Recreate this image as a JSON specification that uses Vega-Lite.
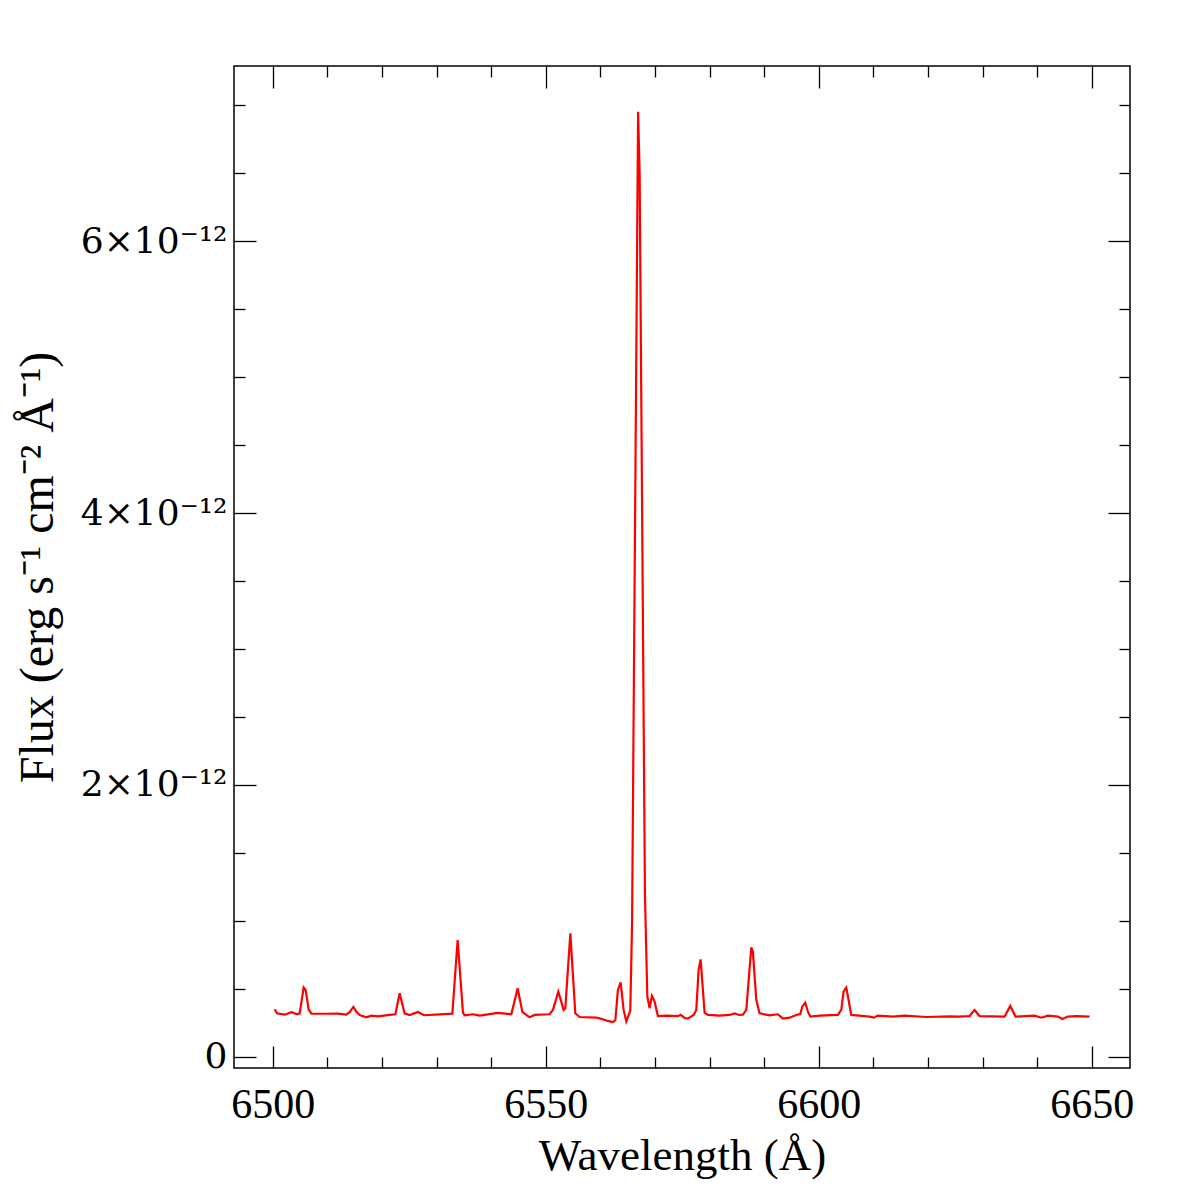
{
  "$schema": "https://vega.github.io/schema/vega-lite/v6.json",
  "width": 896,
  "height": 1002,
  "autosize": {"type": "none"},
  "padding": {"left": 234, "top": 66, "right": 66, "bottom": 128},
  "background": "white",
  "config": {
    "view": {"stroke": "black", "strokeWidth": 1.5},
    "axis": {"grid": false, "domain": false, "tickColor": "black", "tickWidth": 1.3, "labelColor": "black", "titleColor": "black", "titleFontWeight": "normal"}
  },
  "data": {
    "values": [
      {"wavelength": 6500.35, "flux": 3.51e-13},
      {"wavelength": 6500.77, "flux": 3.21e-13},
      {"wavelength": 6502.18, "flux": 3.11e-13},
      {"wavelength": 6503.41, "flux": 3.29e-13},
      {"wavelength": 6504.43, "flux": 3.14e-13},
      {"wavelength": 6504.93, "flux": 3.21e-13},
      {"wavelength": 6505.66, "flux": 5.12e-13},
      {"wavelength": 6506.02, "flux": 4.93e-13},
      {"wavelength": 6506.57, "flux": 3.51e-13},
      {"wavelength": 6507.07, "flux": 3.19e-13},
      {"wavelength": 6509.50, "flux": 3.18e-13},
      {"wavelength": 6511.94, "flux": 3.19e-13},
      {"wavelength": 6513.48, "flux": 3.11e-13},
      {"wavelength": 6514.08, "flux": 3.29e-13},
      {"wavelength": 6514.76, "flux": 3.68e-13},
      {"wavelength": 6515.31, "flux": 3.33e-13},
      {"wavelength": 6515.91, "flux": 3.09e-13},
      {"wavelength": 6517.14, "flux": 2.92e-13},
      {"wavelength": 6518.06, "flux": 3.04e-13},
      {"wavelength": 6519.26, "flux": 2.99e-13},
      {"wavelength": 6521.41, "flux": 3.09e-13},
      {"wavelength": 6522.45, "flux": 3.14e-13},
      {"wavelength": 6523.24, "flux": 4.68e-13},
      {"wavelength": 6524.15, "flux": 3.21e-13},
      {"wavelength": 6525.07, "flux": 3.09e-13},
      {"wavelength": 6526.59, "flux": 3.31e-13},
      {"wavelength": 6527.69, "flux": 3.07e-13},
      {"wavelength": 6530.56, "flux": 3.14e-13},
      {"wavelength": 6532.89, "flux": 3.19e-13},
      {"wavelength": 6533.86, "flux": 8.60e-13},
      {"wavelength": 6534.83, "flux": 3.26e-13},
      {"wavelength": 6535.14, "flux": 3.06e-13},
      {"wavelength": 6536.66, "flux": 3.14e-13},
      {"wavelength": 6537.89, "flux": 3.04e-13},
      {"wavelength": 6541.24, "flux": 3.24e-13},
      {"wavelength": 6543.69, "flux": 3.14e-13},
      {"wavelength": 6544.85, "flux": 5.05e-13},
      {"wavelength": 6545.71, "flux": 3.31e-13},
      {"wavelength": 6547.04, "flux": 2.92e-13},
      {"wavelength": 6547.96, "flux": 3.09e-13},
      {"wavelength": 6550.71, "flux": 3.14e-13},
      {"wavelength": 6551.31, "flux": 3.46e-13},
      {"wavelength": 6552.30, "flux": 4.80e-13},
      {"wavelength": 6553.27, "flux": 3.46e-13},
      {"wavelength": 6553.58, "flux": 3.58e-13},
      {"wavelength": 6554.50, "flux": 9.09e-13},
      {"wavelength": 6555.41, "flux": 3.21e-13},
      {"wavelength": 6556.20, "flux": 2.94e-13},
      {"wavelength": 6559.26, "flux": 2.90e-13},
      {"wavelength": 6560.47, "flux": 2.77e-13},
      {"wavelength": 6561.38, "flux": 2.65e-13},
      {"wavelength": 6562.30, "flux": 2.57e-13},
      {"wavelength": 6562.74, "flux": 2.70e-13},
      {"wavelength": 6563.21, "flux": 4.93e-13},
      {"wavelength": 6563.71, "flux": 5.49e-13},
      {"wavelength": 6564.26, "flux": 3.46e-13},
      {"wavelength": 6564.75, "flux": 2.62e-13},
      {"wavelength": 6565.48, "flux": 3.40e-13},
      {"wavelength": 6565.81, "flux": 1.00e-12},
      {"wavelength": 6566.91, "flux": 6.95e-12},
      {"wavelength": 6567.19, "flux": 6.50e-12},
      {"wavelength": 6568.16, "flux": 1.20e-12},
      {"wavelength": 6568.60, "flux": 4.43e-13},
      {"wavelength": 6569.02, "flux": 3.58e-13},
      {"wavelength": 6569.44, "flux": 4.49e-13},
      {"wavelength": 6569.93, "flux": 4.07e-13},
      {"wavelength": 6570.54, "flux": 3.01e-13},
      {"wavelength": 6572.08, "flux": 3.04e-13},
      {"wavelength": 6574.20, "flux": 3.00e-13},
      {"wavelength": 6574.70, "flux": 3.10e-13},
      {"wavelength": 6575.43, "flux": 2.87e-13},
      {"wavelength": 6576.03, "flux": 2.82e-13},
      {"wavelength": 6577.08, "flux": 3.09e-13},
      {"wavelength": 6577.57, "flux": 3.46e-13},
      {"wavelength": 6577.99, "flux": 6.40e-13},
      {"wavelength": 6578.36, "flux": 7.18e-13},
      {"wavelength": 6579.09, "flux": 3.26e-13},
      {"wavelength": 6579.69, "flux": 3.09e-13},
      {"wavelength": 6581.84, "flux": 3.04e-13},
      {"wavelength": 6583.67, "flux": 3.09e-13},
      {"wavelength": 6584.58, "flux": 3.21e-13},
      {"wavelength": 6585.37, "flux": 3.09e-13},
      {"wavelength": 6586.10, "flux": 3.11e-13},
      {"wavelength": 6586.73, "flux": 3.46e-13},
      {"wavelength": 6587.64, "flux": 8.06e-13},
      {"wavelength": 6587.93, "flux": 7.75e-13},
      {"wavelength": 6588.56, "flux": 4.19e-13},
      {"wavelength": 6589.16, "flux": 3.21e-13},
      {"wavelength": 6590.99, "flux": 3.06e-13},
      {"wavelength": 6592.51, "flux": 3.14e-13},
      {"wavelength": 6593.43, "flux": 2.82e-13},
      {"wavelength": 6594.66, "flux": 2.89e-13},
      {"wavelength": 6595.88, "flux": 3.09e-13},
      {"wavelength": 6596.61, "flux": 3.16e-13},
      {"wavelength": 6596.98, "flux": 3.70e-13},
      {"wavelength": 6597.53, "flux": 4.00e-13},
      {"wavelength": 6598.01, "flux": 3.33e-13},
      {"wavelength": 6598.45, "flux": 2.97e-13},
      {"wavelength": 6600.15, "flux": 3.04e-13},
      {"wavelength": 6603.50, "flux": 3.09e-13},
      {"wavelength": 6604.12, "flux": 3.46e-13},
      {"wavelength": 6604.54, "flux": 4.80e-13},
      {"wavelength": 6605.04, "flux": 5.10e-13},
      {"wavelength": 6605.46, "flux": 4.19e-13},
      {"wavelength": 6605.95, "flux": 3.09e-13},
      {"wavelength": 6609.30, "flux": 2.97e-13},
      {"wavelength": 6610.09, "flux": 2.89e-13},
      {"wavelength": 6610.82, "flux": 3.04e-13},
      {"wavelength": 6613.57, "flux": 2.97e-13},
      {"wavelength": 6615.71, "flux": 3.04e-13},
      {"wavelength": 6619.69, "flux": 2.94e-13},
      {"wavelength": 6623.95, "flux": 2.99e-13},
      {"wavelength": 6625.47, "flux": 2.97e-13},
      {"wavelength": 6627.62, "flux": 3.01e-13},
      {"wavelength": 6628.53, "flux": 3.46e-13},
      {"wavelength": 6629.45, "flux": 3.01e-13},
      {"wavelength": 6634.03, "flux": 2.97e-13},
      {"wavelength": 6635.07, "flux": 3.75e-13},
      {"wavelength": 6636.04, "flux": 2.97e-13},
      {"wavelength": 6639.52, "flux": 3.04e-13},
      {"wavelength": 6640.75, "flux": 2.89e-13},
      {"wavelength": 6641.96, "flux": 3.04e-13},
      {"wavelength": 6643.79, "flux": 2.97e-13},
      {"wavelength": 6644.59, "flux": 2.79e-13},
      {"wavelength": 6645.62, "flux": 2.97e-13},
      {"wavelength": 6647.16, "flux": 3.01e-13},
      {"wavelength": 6649.59, "flux": 2.97e-13}
    ]
  },
  "layer": [
    {
      "mark": {"type": "line", "color": "#ff0000", "strokeWidth": 2.2},
      "encoding": {
        "x": {
          "field": "wavelength", "type": "quantitative",
          "scale": {"domain": [6492.9, 6657.0], "nice": false, "zero": false},
          "axis": {"orient": "bottom", "values": [6500, 6550, 6600, 6650], "format": "d", "offset": -22, "tickSize": 22,
                   "labelPadding": 16, "labelFont": "Liberation Serif", "labelFontSize": 42,
                   "title": "Wavelength (Å)", "titleFont": "Liberation Serif", "titleFontSize": 45, "titlePadding": 8}
        },
        "y": {
          "field": "flux", "type": "quantitative",
          "scale": {"domain": [-8.1e-14, 7.287e-12], "nice": false, "zero": false},
          "axis": {"orient": "left", "values": [0, 2e-12, 4e-12, 6e-12], "offset": -22, "tickSize": 22,
                   "labelPadding": 7, "labelFont": "DejaVu Serif", "labelFontSize": 36,
                   "labelExpr": "datum.value == 0 ? '0' : round(datum.value * 1e12) + '×10⁻¹²'",
                   "title": "Flux (erg s⁻¹ cm⁻² Å⁻¹)", "titleFont": "Liberation Serif", "titleFontSize": 48, "titlePadding": 18}
        }
      }
    },
    {
      "mark": {"type": "line", "color": "#ff0000", "strokeOpacity": 0},
      "encoding": {
        "x": {"field": "wavelength", "type": "quantitative",
              "axis": {"orient": "top", "values": [6500, 6550, 6600, 6650], "offset": -22, "tickSize": 22, "labels": false, "title": null}},
        "y": {"field": "flux", "type": "quantitative",
              "axis": {"orient": "right", "values": [0, 2e-12, 4e-12, 6e-12], "offset": -22, "tickSize": 22, "labels": false, "title": null}}
      }
    },
    {
      "mark": {"type": "line", "color": "#ff0000", "strokeOpacity": 0},
      "encoding": {
        "x": {"field": "wavelength", "type": "quantitative",
              "axis": {"orient": "bottom", "values": [6510, 6520, 6530, 6540, 6560, 6570, 6580, 6590, 6610, 6620, 6630, 6640], "offset": -11, "tickSize": 11, "labels": false, "title": null}},
        "y": {"field": "flux", "type": "quantitative",
              "axis": {"orient": "left", "values": [5e-13, 1e-12, 1.5e-12, 2.5e-12, 3e-12, 3.5e-12, 4.5e-12, 5e-12, 5.5e-12, 6.5e-12, 7e-12], "offset": -11, "tickSize": 11, "labels": false, "title": null}}
      }
    },
    {
      "mark": {"type": "line", "color": "#ff0000", "strokeOpacity": 0},
      "encoding": {
        "x": {"field": "wavelength", "type": "quantitative",
              "axis": {"orient": "top", "values": [6510, 6520, 6530, 6540, 6560, 6570, 6580, 6590, 6610, 6620, 6630, 6640], "offset": -11, "tickSize": 11, "labels": false, "title": null}},
        "y": {"field": "flux", "type": "quantitative",
              "axis": {"orient": "right", "values": [5e-13, 1e-12, 1.5e-12, 2.5e-12, 3e-12, 3.5e-12, 4.5e-12, 5e-12, 5.5e-12, 6.5e-12, 7e-12], "offset": -11, "tickSize": 11, "labels": false, "title": null}}
      }
    }
  ],
  "resolve": {"axis": {"x": "independent", "y": "independent"}}
}
